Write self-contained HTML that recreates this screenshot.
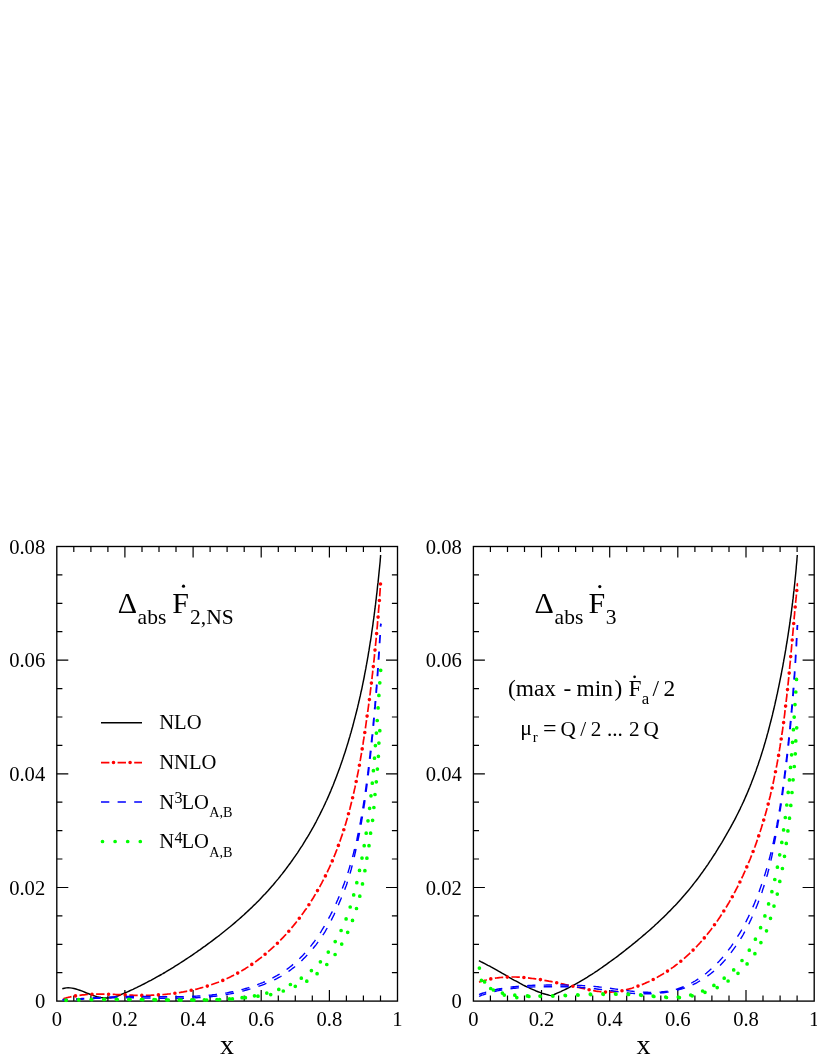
<!DOCTYPE html>
<html><head><meta charset="utf-8"><title>chart</title>
<style>html,body{margin:0;padding:0;background:#fff;}body{width:817px;height:1058px;overflow:hidden;}svg{display:block;font-family:"Liberation Serif",serif;will-change:transform;}</style></head><body>
<svg width="817" height="1058" viewBox="0 0 817 1058">
<rect width="817" height="1058" fill="#fff"/>
<defs><clipPath id="cl"><rect x="56.8" y="546.5" width="340.7" height="456.1"/></clipPath><clipPath id="cr"><rect x="473.4" y="546.5" width="340.8" height="456.1"/></clipPath></defs>
<g stroke="#000" stroke-width="1.35" fill="none" stroke-linecap="butt">
<rect x="56.8" y="546.5" width="340.7" height="454.6"/>
<path d="M73.8 1001.1v-5.6M73.8 546.5v5.6M90.9 1001.1v-5.6M90.9 546.5v5.6M107.9 1001.1v-5.6M107.9 546.5v5.6M124.9 1001.1v-11.0M124.9 546.5v11.0M142.0 1001.1v-5.6M142.0 546.5v5.6M159.0 1001.1v-5.6M159.0 546.5v5.6M176.0 1001.1v-5.6M176.0 546.5v5.6M193.1 1001.1v-11.0M193.1 546.5v11.0M210.1 1001.1v-5.6M210.1 546.5v5.6M227.1 1001.1v-5.6M227.1 546.5v5.6M244.2 1001.1v-5.6M244.2 546.5v5.6M261.2 1001.1v-11.0M261.2 546.5v11.0M278.3 1001.1v-5.6M278.3 546.5v5.6M295.3 1001.1v-5.6M295.3 546.5v5.6M312.3 1001.1v-5.6M312.3 546.5v5.6M329.4 1001.1v-11.0M329.4 546.5v11.0M346.4 1001.1v-5.6M346.4 546.5v5.6M363.4 1001.1v-5.6M363.4 546.5v5.6M380.5 1001.1v-5.6M380.5 546.5v5.6M56.8 972.7h5.6M397.5 972.7h-5.6M56.8 944.3h5.6M397.5 944.3h-5.6M56.8 915.9h5.6M397.5 915.9h-5.6M56.8 887.5h11.5M397.5 887.5h-11.5M56.8 859.0h5.6M397.5 859.0h-5.6M56.8 830.6h5.6M397.5 830.6h-5.6M56.8 802.2h5.6M397.5 802.2h-5.6M56.8 773.8h11.5M397.5 773.8h-11.5M56.8 745.4h5.6M397.5 745.4h-5.6M56.8 717.0h5.6M397.5 717.0h-5.6M56.8 688.6h5.6M397.5 688.6h-5.6M56.8 660.1h11.5M397.5 660.1h-11.5M56.8 631.7h5.6M397.5 631.7h-5.6M56.8 603.3h5.6M397.5 603.3h-5.6M56.8 574.9h5.6M397.5 574.9h-5.6" stroke-width="1.2"/>
</g>
<g stroke="#000" stroke-width="1.35" fill="none" stroke-linecap="butt">
<rect x="473.4" y="546.5" width="340.8" height="454.6"/>
<path d="M490.4 1001.1v-5.6M490.4 546.5v5.6M507.5 1001.1v-5.6M507.5 546.5v5.6M524.5 1001.1v-5.6M524.5 546.5v5.6M541.5 1001.1v-11.0M541.5 546.5v11.0M558.6 1001.1v-5.6M558.6 546.5v5.6M575.6 1001.1v-5.6M575.6 546.5v5.6M592.7 1001.1v-5.6M592.7 546.5v5.6M609.7 1001.1v-11.0M609.7 546.5v11.0M626.7 1001.1v-5.6M626.7 546.5v5.6M643.8 1001.1v-5.6M643.8 546.5v5.6M660.8 1001.1v-5.6M660.8 546.5v5.6M677.8 1001.1v-11.0M677.8 546.5v11.0M694.9 1001.1v-5.6M694.9 546.5v5.6M711.9 1001.1v-5.6M711.9 546.5v5.6M729.0 1001.1v-5.6M729.0 546.5v5.6M746.0 1001.1v-11.0M746.0 546.5v11.0M763.0 1001.1v-5.6M763.0 546.5v5.6M780.1 1001.1v-5.6M780.1 546.5v5.6M797.1 1001.1v-5.6M797.1 546.5v5.6M473.4 972.7h5.6M814.1 972.7h-5.6M473.4 944.3h5.6M814.1 944.3h-5.6M473.4 915.9h5.6M814.1 915.9h-5.6M473.4 887.5h11.5M814.1 887.5h-11.5M473.4 859.0h5.6M814.1 859.0h-5.6M473.4 830.6h5.6M814.1 830.6h-5.6M473.4 802.2h5.6M814.1 802.2h-5.6M473.4 773.8h11.5M814.1 773.8h-11.5M473.4 745.4h5.6M814.1 745.4h-5.6M473.4 717.0h5.6M814.1 717.0h-5.6M473.4 688.6h5.6M814.1 688.6h-5.6M473.4 660.1h11.5M814.1 660.1h-11.5M473.4 631.7h5.6M814.1 631.7h-5.6M473.4 603.3h5.6M814.1 603.3h-5.6M473.4 574.9h5.6M814.1 574.9h-5.6" stroke-width="1.2"/>
</g>
<g fill="none" clip-path="url(#cl)">
<path d="M62.3 988.8L64.3 988.2L66.2 987.9L68.2 987.8L70.1 987.9L72.1 988.1L74.0 988.5L75.9 989.0L77.8 989.6L79.7 990.2L81.6 990.9L83.5 991.7L85.4 992.5L87.4 993.3L89.3 994.0L91.2 994.8L93.2 995.5L95.1 996.1L97.1 996.7L99.1 997.1L101.0 997.5L103.0 997.8L104.9 998.0L106.9 998.0L108.8 997.9L110.7 997.7L112.6 997.3L114.5 996.9L116.4 996.3L118.3 995.7L120.1 995.0L122.0 994.2L123.8 993.4L125.6 992.6L127.5 991.8L129.3 991.0L131.1 990.1L133.0 989.3L134.8 988.4L136.6 987.6L138.4 986.7L140.2 985.8L142.0 984.9L143.8 984.0L145.5 983.1L147.3 982.2L149.1 981.2L150.9 980.3L152.6 979.4L154.4 978.4L156.1 977.4L157.9 976.4L159.6 975.5L161.4 974.5L163.1 973.5L164.9 972.5L166.6 971.4L168.3 970.4L170.0 969.4L171.7 968.3L173.4 967.3L175.1 966.2L176.8 965.2L178.5 964.1L180.2 963.0L181.9 961.9L183.6 960.8L185.3 959.7L186.9 958.6L188.6 957.5L190.3 956.4L191.9 955.3L193.6 954.1L195.2 953.0L196.9 951.9L198.5 950.7L200.2 949.6L201.8 948.4L203.4 947.2L205.1 946.1L206.7 944.9L208.3 943.7L209.9 942.5L211.5 941.3L213.1 940.1L214.7 938.9L216.3 937.7L217.9 936.5L219.5 935.3L221.1 934.0L222.6 932.8L224.2 931.5L225.7 930.3L227.3 929.0L228.8 927.8L230.4 926.5L231.9 925.2L233.5 923.9L235.0 922.6L236.5 921.3L238.0 920.0L239.5 918.7L241.0 917.4L242.5 916.0L244.0 914.7L245.4 913.4L246.9 912.0L248.4 910.6L249.8 909.3L251.3 907.9L252.7 906.5L254.1 905.1L255.6 903.7L257.0 902.3L258.4 900.9L259.8 899.5L261.2 898.0L262.5 896.6L263.9 895.1L265.3 893.7L266.6 892.2L268.0 890.7L269.3 889.2L270.6 887.7L271.9 886.2L273.3 884.7L274.5 883.2L275.8 881.6L277.1 880.1L278.4 878.6L279.7 877.0L280.9 875.4L282.2 873.9L283.4 872.3L284.6 870.7L285.8 869.1L287.0 867.5L288.2 865.9L289.4 864.3L290.6 862.7L291.8 861.0L292.9 859.4L294.1 857.7L295.2 856.1L296.4 854.4L297.5 852.8L298.6 851.1L299.7 849.4L300.8 847.7L301.9 846.1L303.0 844.4L304.0 842.7L305.1 840.9L306.1 839.2L307.2 837.5L308.2 835.8L309.2 834.1L310.2 832.3L311.2 830.6L312.2 828.8L313.2 827.1L314.2 825.3L315.1 823.6L316.1 821.8L317.0 820.0L317.9 818.2L318.8 816.5L319.8 814.7L320.6 812.9L321.5 811.1L322.4 809.3L323.3 807.5L324.1 805.7L325.0 803.9L325.8 802.0L326.7 800.2L327.5 798.4L328.3 796.6L329.1 794.7L329.9 792.9L330.7 791.1L331.4 789.2L332.2 787.4L333.0 785.5L333.7 783.7L334.4 781.8L335.2 779.9L335.9 778.1L336.6 776.2L337.3 774.3L338.0 772.5L338.7 770.6L339.4 768.7L340.1 766.8L340.7 764.9L341.4 763.1L342.0 761.2L342.7 759.3L343.3 757.4L343.9 755.5L344.6 753.6L345.2 751.7L345.8 749.8L346.4 747.9L347.0 745.9L347.6 744.0L348.2 742.1L348.7 740.2L349.3 738.3L349.9 736.4L350.4 734.4L351.0 732.5L351.5 730.6L352.0 728.7L352.6 726.7L353.1 724.8L353.6 722.9L354.1 720.9L354.6 719.0L355.1 717.1L355.6 715.1L356.1 713.2L356.6 711.2L357.1 709.3L357.6 707.4L358.0 705.4L358.5 703.5L358.9 701.5L359.4 699.6L359.8 697.6L360.3 695.7L360.7 693.7L361.1 691.7L361.6 689.8L362.0 687.8L362.4 685.9L362.8 683.9L363.2 681.9L363.6 680.0L364.0 678.0L364.4 676.0L364.7 674.1L365.1 672.1L365.5 670.1L365.9 668.2L366.2 666.2L366.6 664.2L366.9 662.3L367.3 660.3L367.6 658.3L368.0 656.3L368.3 654.4L368.6 652.4L369.0 650.4L369.3 648.4L369.6 646.4L369.9 644.5L370.2 642.5L370.6 640.5L370.9 638.5L371.2 636.5L371.5 634.5L371.7 632.6L372.0 630.6L372.3 628.6L372.6 626.6L372.9 624.6L373.1 622.6L373.4 620.6L373.7 618.7L374.0 616.7L374.2 614.7L374.5 612.7L374.7 610.7L375.0 608.7L375.2 606.7L375.5 604.7L375.7 602.8L375.9 600.8L376.2 598.8L376.4 596.8L376.6 594.8L376.9 592.8L377.1 590.8L377.3 588.8L377.5 586.8L377.7 584.9L378.0 582.9L378.2 580.9L378.4 578.9L378.6 576.9L378.8 574.9L379.0 572.9L379.2 570.9L379.4 569.0L379.6 567.0L379.8 565.0L380.0 563.0L380.2 561.0L380.3 559.0L380.5 557.1L380.6 555.0" stroke="#000" stroke-width="1.45" stroke-linejoin="round"/>
<path d="M63.3 998.7L64.7 998.2L66.2 997.9L67.7 997.5L69.1 997.2L70.6 996.8L71.5 996.6M79.5 995.3L81.0 995.1L82.5 994.9L84.0 994.8L85.5 994.7L87.0 994.5L87.9 994.5M96.1 994.1L97.6 994.1L99.1 994.1L100.6 994.1L102.1 994.1L103.6 994.1L104.5 994.1M112.7 994.4L114.2 994.4L115.7 994.5L117.2 994.6L118.7 994.6L120.2 994.7L121.1 994.7M129.3 995.1L130.8 995.2L132.3 995.2L133.8 995.3L135.3 995.3L136.8 995.3L137.7 995.3M145.9 995.4L147.4 995.3L148.9 995.3L150.4 995.3L151.9 995.2L153.4 995.2L154.3 995.1M162.4 994.6L163.9 994.5L165.4 994.3L166.9 994.2L168.4 994.0L169.9 993.9L170.8 993.7M178.9 992.6L180.4 992.4L181.9 992.1L183.4 991.9L184.8 991.6L186.3 991.3L187.2 991.2M195.2 989.4L196.7 989.1L198.1 988.7L199.6 988.3L201.0 987.9L202.5 987.5L203.3 987.3M211.2 984.8L212.6 984.3L214.0 983.8L215.4 983.3L216.8 982.8L218.2 982.3L219.0 981.9M226.6 978.7L227.9 978.1L229.3 977.4L230.7 976.8L232.0 976.1L233.3 975.4L234.1 975.0M241.3 971.1L242.6 970.3L243.9 969.5L245.2 968.7L246.4 967.9L247.7 967.1L248.4 966.6M255.2 962.0L256.4 961.1L257.6 960.2L258.8 959.3L260.0 958.4L261.2 957.5L261.9 956.9M268.2 951.7L269.3 950.7L270.5 949.7L271.6 948.7L272.7 947.7L273.8 946.7L274.4 946.1M280.3 940.3L281.4 939.2L282.4 938.2L283.4 937.1L284.4 936.0L285.5 934.9L286.1 934.2M291.5 928.0L292.4 926.9L293.4 925.7L294.3 924.6L295.3 923.4L296.2 922.2L296.8 921.5M301.7 915.0L302.6 913.8L303.5 912.6L304.4 911.3L305.2 910.1L306.1 908.9L306.6 908.1M311.1 901.3L311.9 900.0L312.7 898.7L313.5 897.5L314.2 896.2L315.0 894.9L315.5 894.1M319.6 887.0L320.3 885.7L321.0 884.4L321.7 883.1L322.4 881.7L323.1 880.4L323.5 879.6M327.2 872.3L327.8 870.9L328.4 869.5L329.1 868.2L329.7 866.8L330.3 865.5L330.7 864.6M333.9 857.1L334.5 855.7L335.0 854.3L335.6 852.9L336.1 851.5L336.7 850.1L337.0 849.3M339.8 841.6L340.3 840.2L340.8 838.8L341.3 837.3L341.8 835.9L342.3 834.5L342.6 833.6M345.0 825.8L345.5 824.4L345.9 823.0L346.3 821.5L346.8 820.1L347.2 818.6L347.4 817.8M349.6 809.9L350.0 808.4L350.3 807.0L350.7 805.5L351.1 804.1L351.4 802.6L351.7 801.7M353.5 793.7L353.9 792.3L354.2 790.8L354.5 789.4L354.9 787.9L355.2 786.4L355.4 785.5M357.0 777.5L357.3 776.0L357.6 774.6L357.9 773.1L358.2 771.6L358.5 770.2L358.6 769.3M360.1 761.2L360.4 759.7L360.6 758.2L360.9 756.8L361.1 755.3L361.4 753.8L361.5 752.9M362.8 744.8L363.1 743.4L363.3 741.9L363.5 740.4L363.8 738.9L364.0 737.4L364.1 736.5M365.4 728.4L365.6 726.9L365.8 725.5L366.0 724.0L366.2 722.5L366.4 721.0L366.6 720.1M367.7 712.0L367.9 710.5L368.1 709.0L368.3 707.5L368.5 706.0L368.7 704.6L368.8 703.7M369.9 695.5L370.1 694.0L370.3 692.6L370.4 691.1L370.6 689.6L370.8 688.1L370.9 687.2M371.9 679.1L372.1 677.6L372.2 676.1L372.4 674.6L372.6 673.1L372.7 671.6L372.8 670.7M373.7 662.6L373.9 661.1L374.1 659.6L374.2 658.1L374.4 656.6L374.5 655.1L374.6 654.2M375.4 646.0L375.6 644.6L375.7 643.1L375.9 641.6L376.0 640.1L376.2 638.6L376.2 637.7M377.0 629.5L377.1 628.0L377.3 626.5L377.4 625.0L377.5 623.5L377.6 622.0L377.7 621.2M378.4 613.0L378.5 611.5L378.6 610.0L378.7 608.5L378.9 607.0L379.0 605.5L379.0 604.6M379.7 596.4L379.8 594.9L379.9 593.4L380.0 591.9L380.1 590.4L380.2 588.9L380.2 588.0" stroke="#f00" stroke-width="1.70"/>
<path d="M75.5 995.9h0M92.0 994.2h0M108.6 994.2h0M125.2 994.9h0M141.8 995.4h0M158.4 994.9h0M174.9 993.2h0M191.2 990.3h0M207.3 986.1h0M222.8 980.4h0M237.7 973.1h0M251.8 964.4h0M265.1 954.3h0M277.4 943.2h0M288.8 931.2h0M299.3 918.3h0M308.9 904.7h0M317.5 890.6h0M325.4 875.9h0M332.3 860.9h0M338.4 845.4h0M343.8 829.7h0M348.5 813.8h0M352.6 797.7h0M356.2 781.5h0M359.4 765.2h0M362.2 748.9h0M364.8 732.5h0M367.1 716.1h0M369.4 699.6h0M371.4 683.1h0M373.3 666.6h0M375.0 650.1h0M376.6 633.6h0M378.1 617.1h0M379.4 600.5h0M380.5 584.0h0" stroke="#f00" stroke-width="3.60" stroke-linecap="round"/>
<path d="M62.3 999.5L63.8 999.6L65.3 999.5L66.8 999.4L67.7 999.4M76.0 998.9L77.5 998.8L79.0 998.7L80.5 998.6L82.0 998.5L83.5 998.4L84.3 998.4M92.5 997.9L94.0 997.8L95.5 997.7L97.0 997.6L98.5 997.6L100.0 997.5L100.8 997.4M109.1 997.0L110.6 997.0L112.1 996.9L113.6 996.9L115.1 996.8L116.6 996.8L117.4 996.7M125.7 996.5L127.2 996.5L128.7 996.5L130.2 996.4L131.7 996.4L133.2 996.4L134.0 996.4M142.3 996.4L143.8 996.4L145.3 996.4L146.8 996.4L148.3 996.5L149.8 996.5L150.6 996.5M158.9 996.6L160.4 996.6L161.9 996.6L163.4 996.6L164.9 996.6L166.4 996.6L167.2 996.6M175.5 996.7L177.0 996.6L178.5 996.6L180.0 996.6L181.5 996.6L183.0 996.6L183.8 996.6M192.1 996.3L193.6 996.3L195.1 996.2L196.6 996.1L198.1 996.0L199.6 996.0L200.4 995.9M208.7 995.3L210.2 995.1L211.7 995.0L213.1 994.8L214.6 994.6L216.1 994.4L216.9 994.3M225.1 993.1L226.6 992.9L228.1 992.6L229.6 992.3L231.0 992.0L232.5 991.7L233.3 991.6M241.4 989.7L242.8 989.3L244.3 988.9L245.7 988.5L247.1 988.1L248.6 987.7L249.3 987.4M257.2 984.8L258.6 984.2L260.0 983.7L261.4 983.1L262.8 982.6L264.2 982.0L264.9 981.6M272.4 978.1L273.7 977.4L275.0 976.7L276.4 976.0L277.7 975.2L279.0 974.4L279.6 974.0M286.6 969.5L287.8 968.6L289.0 967.7L290.2 966.8L291.4 965.9L292.5 964.9L293.1 964.4M299.3 958.8L300.4 957.8L301.4 956.7L302.5 955.7L303.5 954.6L304.5 953.5L305.1 952.9M310.4 946.5L311.4 945.4L312.3 944.2L313.2 943.0L314.1 941.8L315.0 940.6L315.4 939.9M320.1 933.0L320.9 931.8L321.7 930.5L322.5 929.2L323.3 928.0L324.0 926.7L324.4 926.0M328.5 918.7L329.2 917.4L329.9 916.1L330.6 914.8L331.3 913.4L332.0 912.1L332.3 911.4M335.9 903.9L336.5 902.5L337.1 901.1L337.7 899.8L338.3 898.4L338.9 897.0L339.2 896.3M342.3 888.6L342.8 887.2L343.3 885.8L343.9 884.4L344.4 882.9L344.9 881.5L345.2 880.8M347.8 872.9L348.3 871.5L348.7 870.1L349.2 868.6L349.6 867.2L350.0 865.8L350.3 865.0M352.5 857.0L352.9 855.6L353.3 854.1L353.7 852.6L354.0 851.2L354.4 849.7L354.6 849.0M356.5 840.9L356.9 839.4L357.2 838.0L357.5 836.5L357.8 835.0L358.1 833.6L358.3 832.8M359.9 824.6L360.2 823.2L360.5 821.7L360.7 820.2L361.0 818.7L361.3 817.3L361.4 816.5M362.8 808.3L363.0 806.8L363.3 805.3L363.5 803.8L363.7 802.4L364.0 800.9L364.1 800.1M365.3 791.9L365.5 790.4L365.7 788.9L365.9 787.4L366.1 785.9L366.3 784.4L366.4 783.7M367.5 775.4L367.7 773.9L367.8 772.4L368.0 771.0L368.2 769.5L368.4 768.0L368.5 767.2M369.5 758.9L369.6 757.5L369.8 756.0L370.0 754.5L370.1 753.0L370.3 751.5L370.4 750.7M371.3 742.4L371.4 741.0L371.6 739.5L371.7 738.0L371.9 736.5L372.1 735.0L372.1 734.2M373.0 725.9L373.1 724.4L373.2 722.9L373.4 721.5L373.5 720.0L373.7 718.5L373.7 717.7M374.5 709.4L374.6 707.9L374.8 706.4L374.9 704.9L375.0 703.4L375.1 701.9L375.2 701.1M375.9 692.9L376.0 691.4L376.1 689.9L376.2 688.4L376.4 686.9L376.5 685.4L376.5 684.6M377.2 676.3L377.3 674.8L377.4 673.3L377.5 671.8L377.6 670.3L377.7 668.8L377.8 668.0M378.3 659.8L378.4 658.3L378.5 656.8L378.6 655.3L378.7 653.8L378.8 652.3L378.9 651.5M379.4 643.2L379.5 641.7L379.6 640.2L379.7 638.7L379.8 637.2L379.9 635.7L379.9 634.9M380.4 626.6L380.5 625.1L380.9 623.7L380.9 623.7M62.3 999.8L63.8 1000.0L65.3 1000.1L66.8 1000.1L67.7 1000.2M76.0 999.7L77.5 999.6L79.0 999.5L80.5 999.3L82.0 999.2L83.5 999.1L84.3 999.1M92.5 998.6L94.0 998.5L95.5 998.4L97.0 998.3L98.5 998.3L100.0 998.2L100.8 998.2M109.1 997.9L110.6 997.8L112.1 997.8L113.6 997.8L115.1 997.7L116.6 997.7L117.4 997.7M125.7 997.7L127.2 997.7L128.7 997.7L130.2 997.8L131.7 997.8L133.2 997.8L134.0 997.8M142.3 998.0L143.8 998.0L145.3 998.0L146.8 998.0L148.3 998.1L149.8 998.1L150.6 998.1M159.0 998.2L160.5 998.2L162.0 998.2L163.5 998.2L165.0 998.2L166.5 998.2L167.3 998.2M175.6 998.3L177.1 998.2L178.6 998.2L180.1 998.2L181.6 998.2L183.2 998.2L184.0 998.2M192.3 997.9L193.8 997.9L195.3 997.8L196.8 997.7L198.3 997.6L199.8 997.6L200.6 997.5M209.0 996.8L210.5 996.7L212.0 996.5L213.6 996.4L215.1 996.2L216.6 996.0L217.4 995.9M225.7 994.7L227.2 994.4L228.7 994.1L230.2 993.9L231.7 993.6L233.2 993.3L234.0 993.1M242.3 991.2L243.7 990.8L245.2 990.4L246.7 990.0L248.1 989.6L249.6 989.2L250.4 988.9M258.4 986.4L259.9 985.9L261.3 985.4L262.8 984.8L264.2 984.3L265.6 983.7L266.4 983.4M274.1 980.0L275.4 979.3L276.8 978.6L278.1 977.9L279.5 977.2L280.8 976.5L281.5 976.0M288.5 971.5L289.7 970.6L290.9 969.7L292.1 968.8L293.3 967.9L294.5 967.0L295.1 966.5M301.4 960.9L302.4 959.9L303.5 958.8L304.6 957.7L305.6 956.7L306.7 955.6L307.3 955.0M312.9 948.6L313.8 947.5L314.8 946.3L315.8 945.1L316.7 943.9L317.6 942.7L318.1 942.0M322.8 935.1L323.7 933.9L324.5 932.6L325.3 931.3L326.0 930.0L326.8 928.7L327.2 928.0M331.2 920.5L331.8 919.1L332.5 917.7L333.2 916.4L333.9 915.0L334.5 913.6L334.8 912.9M338.3 905.3L338.8 903.9L339.4 902.5L340.0 901.1L340.6 899.7L341.2 898.3L341.5 897.5M344.7 889.7L345.2 888.3L345.7 886.9L346.3 885.4L346.8 884.0L347.2 882.5L347.5 881.8M350.0 873.6L350.4 872.2L350.8 870.7L351.3 869.2L351.6 867.7L352.0 866.2L352.2 865.4M354.2 857.1L354.6 855.6L354.9 854.1L355.3 852.6L355.6 851.2L355.9 849.7L356.1 849.0M357.9 840.9L358.2 839.4L358.5 838.0L358.8 836.5L359.1 835.0L359.4 833.6L359.5 832.8M361.1 824.6L361.3 823.2L361.6 821.7L361.8 820.2L362.1 818.7L362.3 817.3L362.5 816.5M363.8 808.3L364.0 806.8L364.2 805.3L364.5 803.8L364.7 802.4L364.9 800.9L365.0 800.1M366.1 791.9L366.3 790.4L366.5 788.9L366.7 787.4L366.9 785.9L367.1 784.4L367.2 783.7M368.2 775.4L368.4 773.9L368.6 772.4L368.8 771.0L368.9 769.5L369.1 768.0L369.2 767.2M370.1 758.9L370.3 757.5L370.5 756.0L370.6 754.5L370.8 753.0L371.0 751.5L371.0 750.7M371.9 742.4L372.1 741.0L372.2 739.5L372.3 738.0L372.5 736.5L372.7 735.0L372.7 734.2M373.5 725.9L373.7 724.4L373.8 722.9L374.0 721.5L374.1 720.0L374.2 718.5L374.3 717.7M375.0 709.4L375.2 707.9L375.3 706.4L375.4 704.9L375.5 703.4L375.7 701.9L375.7 701.1M376.4 692.9L376.5 691.4L376.6 689.9L376.8 688.4L376.9 686.9L377.0 685.4L377.1 684.6M377.7 676.3L377.8 674.8L377.9 673.3L378.0 671.8L378.1 670.3L378.2 668.8L378.2 668.0M378.8 659.8L378.9 658.3L379.0 656.8L379.1 655.3L379.2 653.8L379.3 652.3L379.3 651.5M379.8 643.2L379.9 641.7L380.0 640.2L380.1 638.7L380.2 637.2L380.3 635.7L380.3 634.9M380.8 626.6L380.9 625.1L381.3 623.7L381.3 623.7" stroke="#00f" stroke-width="1.40"/>
<path d="M65.9 1000.1h0M78.5 999.7h0M91.1 999.5h0M103.7 999.3h0M116.3 999.3h0M128.8 999.4h0M141.4 999.5h0M154.0 999.7h0M166.6 999.8h0M179.2 999.9h0M191.8 999.9h0M204.4 999.8h0M217.0 999.5h0M229.5 998.9h0M242.1 997.7h0M254.5 995.8h0M266.8 993.1h0M278.8 989.4h0M290.4 984.5h0M301.3 978.2h0M311.4 970.6h0M320.4 961.8h0M328.3 952.1h0M335.2 941.6h0M341.1 930.5h0M346.1 918.9h0M350.2 907.0h0M353.7 894.9h0M356.8 882.7h0M359.5 870.4h0M362.0 858.1h0M364.2 845.7h0M366.2 833.2h0M368.0 820.8h0M369.6 808.3h0M371.0 795.8h0M372.3 783.2h0M373.4 770.7h0M374.5 758.2h0M375.4 745.6h0M376.4 733.1h0M377.2 720.5h0M378.1 707.9h0M378.9 695.4h0M379.8 682.8h0M380.7 670.3h0M66.2 1000.3h0M79.0 999.9h0M91.7 999.7h0M104.5 999.5h0M117.3 999.5h0M130.0 999.6h0M142.8 999.7h0M155.6 999.9h0M168.3 1000.0h0M181.1 1000.1h0M193.9 1000.1h0M206.7 1000.0h0M219.6 999.6h0M232.4 998.9h0M245.4 997.7h0M258.0 996.2h0M270.7 994.6h0M283.3 991.0h0M295.3 986.3h0M306.8 981.2h0M317.1 973.7h0M326.8 964.5h0M335.1 954.5h0M341.7 944.1h0M347.7 932.3h0M352.5 920.4h0M356.5 908.5h0M359.8 896.2h0M362.5 883.9h0M364.9 870.7h0M366.9 858.2h0M369.0 845.7h0M370.6 833.2h0M372.6 820.3h0M373.9 807.5h0M375.0 794.5h0M376.3 781.8h0M377.4 769.1h0M378.4 756.3h0M378.9 743.1h0M379.8 730.7h0" stroke="#0f0" stroke-width="3.70" stroke-linecap="round"/>
</g>
<g fill="none" clip-path="url(#cr)">
<path d="M478.9 960.7L480.7 961.7L482.5 962.5L484.3 963.4L486.1 964.3L487.9 965.3L489.7 966.2L491.4 967.2L493.2 968.2L495.0 969.2L496.8 970.2L498.5 971.2L500.3 972.2L502.0 973.2L503.8 974.2L505.6 975.2L507.3 976.2L509.1 977.3L510.9 978.3L512.6 979.3L514.4 980.3L516.2 981.2L518.0 982.2L519.7 983.2L521.5 984.1L523.3 985.1L525.1 986.0L526.9 986.9L528.8 987.7L530.6 988.6L532.4 989.4L534.3 990.2L536.2 991.0L538.0 991.7L539.9 992.4L541.8 993.1L543.7 993.7L545.7 994.3L547.6 994.8L549.6 995.4L551.6 995.6L551.6 995.6L553.4 994.8L555.3 994.0L557.1 993.2L559.0 992.4L560.8 991.6L562.6 990.7L564.4 989.9L566.2 989.0L568.0 988.1L569.8 987.2L571.6 986.2L573.3 985.3L575.1 984.3L576.8 983.4L578.6 982.4L580.3 981.4L582.0 980.4L583.7 979.4L585.4 978.3L587.1 977.3L588.8 976.2L590.5 975.1L592.2 974.1L593.9 973.0L595.5 971.9L597.2 970.8L598.9 969.6L600.5 968.5L602.2 967.4L603.8 966.2L605.4 965.1L607.1 963.9L608.7 962.7L610.3 961.5L611.9 960.4L613.6 959.2L615.2 958.0L616.8 956.8L618.4 955.6L620.0 954.3L621.6 953.1L623.2 951.9L624.7 950.7L626.3 949.4L627.9 948.2L629.5 946.9L631.0 945.7L632.6 944.4L634.2 943.2L635.7 941.9L637.3 940.6L638.8 939.3L640.4 938.0L641.9 936.7L643.4 935.4L645.0 934.1L646.5 932.8L648.0 931.5L649.5 930.2L651.0 928.9L652.5 927.5L654.0 926.2L655.4 924.8L656.9 923.5L658.4 922.1L659.8 920.7L661.3 919.3L662.7 918.0L664.2 916.6L665.6 915.2L667.0 913.8L668.4 912.3L669.9 910.9L671.2 909.5L672.6 908.1L674.0 906.6L675.4 905.2L676.8 903.7L678.1 902.2L679.5 900.7L680.8 899.3L682.1 897.8L683.4 896.3L684.7 894.8L686.0 893.2L687.3 891.7L688.6 890.2L689.9 888.6L691.1 887.1L692.4 885.5L693.6 883.9L694.8 882.4L696.1 880.8L697.3 879.2L698.5 877.6L699.7 876.0L700.8 874.4L702.0 872.8L703.2 871.1L704.3 869.5L705.5 867.9L706.6 866.2L707.8 864.6L708.9 862.9L710.0 861.2L711.1 859.6L712.2 857.9L713.3 856.2L714.4 854.5L715.5 852.8L716.5 851.1L717.6 849.4L718.6 847.7L719.7 846.0L720.7 844.3L721.8 842.6L722.8 840.9L723.8 839.1L724.8 837.4L725.8 835.7L726.8 833.9L727.8 832.2L728.8 830.4L729.8 828.7L730.8 826.9L731.7 825.2L732.7 823.4L733.6 821.6L734.6 819.9L735.5 818.1L736.4 816.3L737.3 814.5L738.2 812.7L739.1 810.9L740.0 809.1L740.8 807.3L741.7 805.5L742.5 803.7L743.4 801.9L744.2 800.1L745.0 798.3L745.8 796.4L746.6 794.6L747.4 792.8L748.2 790.9L748.9 789.1L749.7 787.2L750.4 785.4L751.2 783.5L751.9 781.6L752.6 779.8L753.3 777.9L754.0 776.0L754.7 774.2L755.4 772.3L756.1 770.4L756.7 768.5L757.4 766.6L758.1 764.7L758.7 762.8L759.3 760.9L760.0 759.0L760.6 757.1L761.2 755.2L761.8 753.3L762.4 751.4L763.0 749.5L763.6 747.6L764.1 745.7L764.7 743.7L765.3 741.8L765.8 739.9L766.4 738.0L766.9 736.0L767.4 734.1L768.0 732.2L768.5 730.2L769.0 728.3L769.5 726.4L770.0 724.4L770.5 722.5L771.0 720.5L771.5 718.6L772.0 716.6L772.5 714.7L772.9 712.7L773.4 710.8L773.9 708.8L774.3 706.9L774.8 704.9L775.2 703.0L775.6 701.0L776.1 699.0L776.5 697.1L776.9 695.1L777.4 693.2L777.8 691.2L778.2 689.2L778.6 687.3L779.0 685.3L779.4 683.3L779.8 681.4L780.2 679.4L780.6 677.4L781.0 675.5L781.4 673.5L781.7 671.6L782.1 669.6L782.5 667.6L782.9 665.6L783.2 663.7L783.6 661.7L783.9 659.7L784.3 657.8L784.6 655.8L785.0 653.8L785.3 651.9L785.7 649.9L786.0 647.9L786.3 645.9L786.6 644.0L787.0 642.0L787.3 640.0L787.6 638.0L787.9 636.1L788.2 634.1L788.5 632.1L788.8 630.1L789.1 628.1L789.4 626.2L789.7 624.2L790.0 622.2L790.2 620.2L790.5 618.2L790.8 616.3L791.1 614.3L791.3 612.3L791.6 610.3L791.8 608.3L792.1 606.3L792.3 604.4L792.6 602.4L792.8 600.4L793.1 598.4L793.3 596.4L793.5 594.4L793.7 592.4L794.0 590.4L794.2 588.4L794.4 586.4L794.6 584.5L794.8 582.5L795.0 580.5L795.2 578.5L795.4 576.5L795.6 574.5L795.8 572.5L796.0 570.5L796.2 568.5L796.3 566.5L796.5 564.5L796.7 562.5L796.9 560.5L797.0 558.5L797.2 556.5L797.3 555.0" stroke="#000" stroke-width="1.45" stroke-linejoin="round"/>
<path d="M479.1 982.3L480.4 981.6L481.8 981.2L483.3 980.7L484.7 980.3L486.2 980.0L486.8 979.8M494.9 978.2L496.4 978.0L497.8 977.8L499.3 977.6L500.8 977.5L502.3 977.3L503.2 977.3M511.4 977.0L512.9 977.0L514.4 977.0L515.9 977.0L517.4 977.1L518.9 977.2L519.8 977.2M528.0 977.9L529.5 978.1L531.0 978.3L532.4 978.5L533.9 978.7L535.4 978.9L536.3 979.0M544.4 980.3L545.9 980.6L547.3 980.9L548.8 981.2L550.3 981.4L551.8 981.7L552.6 981.9M560.7 983.6L562.1 983.9L563.6 984.2L565.1 984.5L566.5 984.8L568.0 985.2L568.9 985.3M576.9 987.1L578.4 987.4L579.8 987.7L581.3 988.1L582.8 988.4L584.2 988.7L585.1 988.9M593.1 990.5L594.6 990.8L596.1 991.1L597.6 991.3L599.1 991.5L600.5 991.7L601.4 991.8M609.6 992.1L611.1 992.1L612.6 992.0L614.1 991.9L615.6 991.7L617.1 991.5L618.0 991.4M626.0 989.8L627.5 989.4L628.9 989.0L630.4 988.6L631.8 988.2L633.2 987.7L634.1 987.4M641.8 984.6L643.2 984.1L644.6 983.5L645.9 982.9L647.3 982.3L648.7 981.7L649.5 981.3M656.8 977.6L658.1 976.8L659.4 976.1L660.7 975.3L662.0 974.6L663.3 973.8L664.0 973.3M670.9 968.8L672.1 967.9L673.3 967.1L674.5 966.2L675.7 965.3L676.9 964.4L677.6 963.8M684.0 958.6L685.1 957.6L686.2 956.6L687.3 955.6L688.4 954.6L689.5 953.6L690.2 952.9M696.0 947.1L697.0 946.1L698.0 945.0L699.1 943.9L700.1 942.8L701.1 941.6L701.7 941.0M706.9 934.7L707.9 933.5L708.8 932.4L709.7 931.2L710.7 930.0L711.6 928.8L712.1 928.1M716.9 921.4L717.8 920.2L718.6 919.0L719.5 917.7L720.3 916.5L721.1 915.2L721.6 914.5M726.0 907.5L726.8 906.2L727.5 905.0L728.3 903.7L729.1 902.4L729.8 901.1L730.3 900.3M734.2 893.1L734.9 891.8L735.6 890.5L736.3 889.1L737.0 887.8L737.7 886.5L738.1 885.7M741.7 878.3L742.3 876.9L743.0 875.6L743.6 874.2L744.2 872.8L744.8 871.5L745.2 870.7M748.4 863.1L749.0 861.7L749.6 860.4L750.2 859.0L750.7 857.6L751.3 856.2L751.6 855.4M754.5 847.7L755.1 846.3L755.6 844.9L756.1 843.5L756.6 842.1L757.1 840.6L757.4 839.8M760.0 832.0L760.5 830.6L760.9 829.2L761.4 827.7L761.8 826.3L762.3 824.9L762.5 824.0M764.9 816.1L765.3 814.7L765.7 813.3L766.1 811.8L766.5 810.4L766.9 808.9L767.1 808.1M769.2 800.1L769.5 798.7L769.9 797.2L770.3 795.7L770.6 794.3L770.9 792.8L771.2 792.0M773.0 784.0L773.3 782.5L773.6 781.0L773.9 779.6L774.2 778.1L774.5 776.6L774.7 775.7M776.3 767.7L776.6 766.2L776.9 764.7L777.1 763.3L777.4 761.8L777.7 760.3L777.8 759.4M779.2 751.4L779.5 749.9L779.7 748.4L780.0 746.9L780.2 745.4L780.4 744.0L780.6 743.1M781.8 735.0L782.0 733.5L782.3 732.0L782.5 730.5L782.7 729.0L782.9 727.5L783.0 726.6M784.1 718.5L784.3 717.0L784.5 715.5L784.7 714.1L784.8 712.6L785.0 711.1L785.1 710.2M786.1 702.0L786.3 700.5L786.4 699.1L786.6 697.6L786.8 696.1L786.9 694.6L787.0 693.7M787.9 685.5L788.1 684.0L788.2 682.6L788.4 681.1L788.5 679.6L788.7 678.1L788.8 677.2M789.6 669.0L789.7 667.5L789.8 666.0L790.0 664.5L790.1 663.0L790.3 661.6L790.4 660.7M791.1 652.5L791.2 651.0L791.4 649.5L791.5 648.0L791.6 646.5L791.8 645.0L791.9 644.1M792.6 636.0L792.7 634.5L792.9 633.0L793.0 631.5L793.1 630.0L793.3 628.5L793.3 627.6M794.1 619.4L794.2 617.9L794.3 616.4L794.5 614.9L794.6 613.4L794.7 612.0L794.8 611.1M795.6 602.9L795.7 601.4L795.9 599.9L796.0 598.4L796.2 596.9L796.3 595.4L796.4 594.5M797.2 586.4L797.3 584.9L797.2 583.4L797.1 583.3" stroke="#f00" stroke-width="1.70"/>
<path d="M490.8 978.9h0M507.3 977.1h0M523.9 977.5h0M540.4 979.6h0M556.7 982.7h0M572.9 986.2h0M589.1 989.7h0M605.5 992.1h0M622.0 990.7h0M638.0 986.1h0M653.2 979.5h0M667.5 971.1h0M680.8 961.2h0M693.1 950.1h0M704.3 937.9h0M714.5 924.8h0M723.8 911.0h0M732.3 896.7h0M739.9 882.0h0M746.8 866.9h0M753.1 851.5h0M758.7 835.9h0M763.7 820.1h0M768.2 804.1h0M772.1 788.0h0M775.5 771.7h0M778.6 755.4h0M781.2 739.0h0M783.6 722.6h0M785.6 706.1h0M787.5 689.6h0M789.2 673.1h0M790.7 656.6h0M792.2 640.0h0M793.7 623.5h0M795.2 607.0h0M796.8 590.5h0" stroke="#f00" stroke-width="3.60" stroke-linecap="round"/>
<path d="M479.1 994.7L480.4 994.0L481.8 993.5L483.2 993.0L484.6 992.6L486.1 992.1L486.2 992.1M494.2 990.0L495.7 989.6L497.1 989.3L498.6 989.0L500.1 988.7L501.6 988.5L502.3 988.3M510.5 987.1L512.0 986.9L513.5 986.7L515.0 986.6L516.5 986.4L518.0 986.3L518.8 986.2M527.1 985.6L528.6 985.5L530.1 985.5L531.6 985.4L533.1 985.3L534.6 985.3L535.4 985.3M543.7 985.1L545.2 985.1L546.7 985.0L548.2 985.0L549.7 985.0L551.2 985.0L552.0 985.0M560.3 985.0L561.8 985.0L563.3 985.0L564.8 985.0L566.3 985.1L567.8 985.1L568.6 985.1M576.9 985.3L578.4 985.4L579.9 985.5L581.4 985.5L582.9 985.6L584.4 985.7L585.2 985.7M593.4 986.4L594.9 986.5L596.4 986.6L597.9 986.8L599.4 987.0L600.9 987.1L601.7 987.2M609.9 988.3L611.4 988.5L612.9 988.7L614.4 988.9L615.9 989.1L617.3 989.3L618.1 989.4M626.4 990.5L627.9 990.7L629.3 990.9L630.8 991.1L632.3 991.2L633.8 991.4L634.6 991.5M642.9 992.1L644.4 992.2L645.9 992.3L647.4 992.3L648.9 992.4L650.4 992.4L651.2 992.4M659.5 992.1L661.0 992.0L662.5 991.8L664.0 991.7L665.4 991.5L666.9 991.3L667.7 991.1M675.8 989.4L677.3 989.0L678.7 988.5L680.1 988.0L681.5 987.5L682.9 987.0L683.7 986.7M691.2 983.2L692.5 982.5L693.8 981.7L695.1 981.0L696.4 980.2L697.6 979.4L698.3 978.9M705.1 974.1L706.3 973.2L707.4 972.2L708.6 971.3L709.7 970.3L710.8 969.3L711.4 968.8M717.4 963.0L718.4 962.0L719.5 960.9L720.5 959.7L721.5 958.6L722.5 957.5L723.0 956.9M728.2 950.4L729.1 949.2L730.0 948.0L730.9 946.8L731.7 945.6L732.6 944.3L733.0 943.7M737.5 936.7L738.3 935.4L739.1 934.2L739.9 932.9L740.6 931.6L741.4 930.3L741.8 929.6M745.7 922.3L746.4 920.9L747.0 919.6L747.7 918.2L748.4 916.9L749.0 915.5L749.4 914.8M752.8 907.3L753.4 905.9L754.0 904.5L754.6 903.1L755.1 901.7L755.7 900.4L756.0 899.6M759.0 891.9L759.5 890.5L760.0 889.1L760.5 887.6L761.0 886.2L761.5 884.8L761.8 884.1M764.4 876.2L764.8 874.7L765.3 873.3L765.7 871.9L766.1 870.4L766.6 869.0L766.8 868.2M769.0 860.2L769.4 858.8L769.8 857.3L770.1 855.9L770.5 854.4L770.9 853.0L771.0 852.2M772.9 844.1L773.3 842.6L773.6 841.2L773.9 839.7L774.2 838.2L774.5 836.8L774.7 836.0M776.3 827.8L776.6 826.4L776.9 824.9L777.1 823.4L777.4 821.9L777.7 820.5L777.8 819.7M779.2 811.5L779.5 810.0L779.7 808.5L779.9 807.1L780.2 805.6L780.4 804.1L780.5 803.3M781.7 795.1L782.0 793.6L782.2 792.1L782.4 790.6L782.6 789.2L782.8 787.7L782.9 786.9M784.0 778.6L784.2 777.2L784.4 775.7L784.6 774.2L784.8 772.7L784.9 771.2L785.0 770.4M786.0 762.2L786.2 760.7L786.4 759.2L786.6 757.7L786.7 756.2L786.9 754.7L787.0 753.9M787.9 745.7L788.1 744.2L788.3 742.7L788.4 741.2L788.6 739.7L788.7 738.2L788.8 737.4M789.7 729.2L789.8 727.7L790.0 726.2L790.1 724.7L790.2 723.2L790.4 721.7L790.5 720.9M791.2 712.6L791.4 711.2L791.5 709.7L791.6 708.2L791.8 706.7L791.9 705.2L792.0 704.4M792.7 696.1L792.8 694.6L792.9 693.1L793.0 691.6L793.1 690.1L793.2 688.6L793.3 687.8M793.9 679.6L794.0 678.1L794.1 676.6L794.3 675.1L794.4 673.6L794.5 672.1L794.5 671.3M795.1 663.0L795.2 661.5L795.3 660.0L795.4 658.5L795.4 657.0L795.5 655.5L795.6 654.7M796.1 646.4L796.2 644.9L796.2 643.4L796.3 641.9L796.4 640.4L796.5 638.9L796.5 638.1M796.9 629.9L797.0 628.4L797.1 626.9L797.2 625.4L797.2 625.1M479.1 996.5L480.4 995.8L481.8 995.2L483.2 994.8L484.6 994.3L486.1 993.8L486.2 993.8M494.2 991.6L495.7 991.2L497.1 990.9L498.6 990.6L500.1 990.3L501.6 990.1L502.3 989.9M510.5 988.7L512.0 988.5L513.5 988.3L515.0 988.2L516.5 988.0L518.0 987.9L518.8 987.8M527.1 987.2L528.6 987.1L530.1 987.1L531.6 987.0L533.1 986.9L534.6 986.9L535.4 986.9M543.7 986.7L545.2 986.7L546.7 986.7L548.3 986.7L549.8 986.7L551.3 986.7L552.1 986.7M560.4 986.7L561.9 986.7L563.5 986.7L565.0 986.7L566.5 986.8L568.0 986.8L568.8 986.9M577.1 987.3L578.6 987.4L580.2 987.5L581.7 987.6L583.2 987.7L584.7 987.8L585.5 987.9M593.8 988.7L595.3 988.8L596.8 989.0L598.3 989.2L599.8 989.4L601.3 989.5L602.1 989.6M610.3 990.6L611.8 990.8L613.3 991.0L614.8 991.2L616.3 991.4L617.8 991.6L618.6 991.7M626.8 992.8L628.3 993.0L629.8 993.1L631.3 993.3L632.8 993.4L634.3 993.5L635.1 993.5M643.4 993.8L644.9 993.8L646.4 993.8L647.9 993.8L649.4 993.8L650.9 993.8L651.7 993.7M660.2 993.1L661.7 992.9L663.2 992.7L664.8 992.5L666.3 992.3L667.8 992.1L668.6 992.0M676.9 990.3L678.4 989.8L679.9 989.4L681.3 989.0L682.8 988.6L684.2 988.1L685.0 987.8M692.6 984.8L694.0 984.1L695.3 983.5L696.6 982.8L698.0 982.0L699.4 981.2L700.1 980.8M707.4 976.1L708.7 975.2L710.0 974.2L711.2 973.3L712.3 972.4L713.4 971.5L714.0 970.9M720.0 965.4L721.0 964.4L722.1 963.3L723.1 962.2L724.1 961.1L725.1 960.0L725.6 959.4M730.9 952.8L731.8 951.6L732.7 950.4L733.6 949.2L734.5 947.9L735.4 946.7L735.9 946.0M740.6 938.9L741.4 937.6L742.2 936.3L743.0 935.0L743.7 933.6L744.4 932.3L744.8 931.6M748.7 924.3L749.4 922.9L750.0 921.5L750.7 920.1L751.3 918.7L752.0 917.3L752.3 916.6M755.7 908.7L756.3 907.2L756.9 905.8L757.4 904.4L758.0 903.0L758.5 901.6L758.8 900.8M761.7 892.9L762.2 891.5L762.6 890.0L763.1 888.6L763.6 887.2L764.0 885.7L764.3 884.9M766.7 876.9L767.1 875.5L767.6 874.0L767.9 872.5L768.3 871.0L768.7 869.6L768.9 868.8M770.9 860.6L771.2 859.1L771.6 857.6L771.9 856.2L772.2 854.7L772.5 853.2L772.7 852.4M774.2 844.1L774.5 842.7L774.8 841.2L775.1 839.7L775.4 838.2L775.6 836.8L775.8 836.0M777.3 827.8L777.5 826.4L777.8 824.9L778.0 823.4L778.3 821.9L778.6 820.5L778.7 819.7M780.0 811.5L780.3 810.0L780.5 808.5L780.7 807.1L781.0 805.6L781.2 804.1L781.3 803.3M782.5 795.1L782.7 793.6L782.9 792.1L783.1 790.6L783.3 789.2L783.5 787.7L783.6 786.9M784.7 778.6L784.9 777.2L785.0 775.7L785.2 774.2L785.4 772.7L785.6 771.2L785.7 770.4M786.7 762.2L786.9 760.7L787.0 759.2L787.2 757.7L787.4 756.2L787.5 754.7L787.6 753.9M788.5 745.7L788.7 744.2L788.9 742.7L789.0 741.2L789.2 739.7L789.3 738.2L789.4 737.4M790.2 729.2L790.4 727.7L790.5 726.2L790.7 724.7L790.8 723.2L791.0 721.7L791.0 720.9M791.8 712.6L791.9 711.2L792.0 709.7L792.2 708.2L792.3 706.7L792.4 705.2L792.5 704.4M793.2 696.1L793.3 694.6L793.4 693.1L793.5 691.6L793.6 690.1L793.8 688.6L793.8 687.8M794.4 679.6L794.5 678.1L794.6 676.6L794.7 675.1L794.8 673.6L794.9 672.1L795.0 671.3M795.5 663.0L795.6 661.5L795.7 660.0L795.8 658.5L795.9 657.0L796.0 655.5L796.0 654.7M796.5 646.4L796.6 644.9L796.7 643.4L796.7 641.9L796.8 640.4L796.9 638.9L796.9 638.1M797.4 629.9L797.4 628.4L797.5 626.9L797.6 625.4L797.6 625.1" stroke="#00f" stroke-width="1.40"/>
<path d="M479.4 968.1h0M481.4 980.3h0M490.7 988.5h0M502.4 993.1h0M514.8 995.2h0M527.4 995.9h0M540.0 996.0h0M552.6 995.8h0M565.1 995.3h0M577.7 994.8h0M590.3 994.2h0M602.9 993.9h0M615.5 993.8h0M628.1 994.1h0M640.6 994.9h0M653.2 996.1h0M665.7 997.1h0M678.3 997.0h0M690.7 995.0h0M702.6 991.0h0M713.9 985.4h0M724.2 978.2h0M733.7 969.9h0M742.0 960.5h0M749.3 950.2h0M755.4 939.2h0M760.6 927.7h0M764.9 915.9h0M768.6 903.9h0M771.9 891.7h0M774.8 879.5h0M777.4 867.2h0M779.7 854.8h0M781.8 842.4h0M783.6 829.9h0M785.3 817.5h0M786.8 805.0h0M788.2 792.4h0M789.4 779.9h0M790.5 767.4h0M791.6 754.8h0M792.5 742.3h0M793.4 729.7h0M794.2 717.1h0M795.0 704.6h0M795.8 692.0h0M796.5 679.4h0M479.4 968.1h0M484.6 981.9h0M493.4 990.0h0M504.3 995.1h0M516.8 997.6h0M528.9 996.4h0M540.3 996.3h0M552.9 996.1h0M565.5 995.6h0M578.1 995.1h0M590.7 994.6h0M603.3 994.3h0M616.0 994.2h0M628.6 994.5h0M641.3 995.3h0M653.9 996.5h0M666.5 997.5h0M679.4 997.6h0M692.2 995.8h0M705.0 992.3h0M717.2 987.6h0M728.1 981.0h0M738.0 973.3h0M747.1 963.9h0M754.9 953.7h0M760.9 942.6h0M766.5 930.8h0M770.5 918.3h0M774.0 906.1h0M777.3 894.1h0M779.8 881.4h0M782.4 868.5h0M784.5 856.3h0M786.3 843.4h0M787.9 830.9h0M789.5 818.2h0M790.8 805.4h0M792.0 792.5h0M793.1 779.8h0M794.3 766.5h0M795.3 753.8h0M795.8 740.9h0M796.7 727.8h0" stroke="#0f0" stroke-width="3.70" stroke-linecap="round"/>
</g>
<g font-size="20.6" fill="#000">
<text x="45.2" y="1008.1" text-anchor="end">0</text>
<text x="45.2" y="894.5" text-anchor="end">0.02</text>
<text x="45.2" y="780.8" text-anchor="end">0.04</text>
<text x="45.2" y="667.1" text-anchor="end">0.06</text>
<text x="45.2" y="553.5" text-anchor="end">0.08</text>
<text x="56.8" y="1025.7" text-anchor="middle">0</text>
<text x="124.9" y="1025.7" text-anchor="middle">0.2</text>
<text x="193.1" y="1025.7" text-anchor="middle">0.4</text>
<text x="261.2" y="1025.7" text-anchor="middle">0.6</text>
<text x="329.4" y="1025.7" text-anchor="middle">0.8</text>
<text x="397.5" y="1025.7" text-anchor="middle">1</text>
</g>
<text x="227.0" y="1053.6" font-size="28" text-anchor="middle">x</text>
<g font-size="20.6" fill="#000">
<text x="461.8" y="1008.1" text-anchor="end">0</text>
<text x="461.8" y="894.5" text-anchor="end">0.02</text>
<text x="461.8" y="780.8" text-anchor="end">0.04</text>
<text x="461.8" y="667.1" text-anchor="end">0.06</text>
<text x="461.8" y="553.5" text-anchor="end">0.08</text>
<text x="473.4" y="1025.7" text-anchor="middle">0</text>
<text x="541.5" y="1025.7" text-anchor="middle">0.2</text>
<text x="609.7" y="1025.7" text-anchor="middle">0.4</text>
<text x="677.8" y="1025.7" text-anchor="middle">0.6</text>
<text x="746.0" y="1025.7" text-anchor="middle">0.8</text>
<text x="814.1" y="1025.7" text-anchor="middle">1</text>
</g>
<text x="643.6" y="1053.6" font-size="28" text-anchor="middle">x</text>
<g fill="#000">
<!-- left title -->
<text x="117.8" y="613.2" font-size="30">&#916;</text>
<text x="137.6" y="623.8" font-size="21.5">abs</text>
<text x="172.2" y="613.2" font-size="30">F</text>
<circle cx="183.5" cy="586.2" r="1.6"/>
<text x="190" y="623.8" font-size="21.5">2,NS</text>
<!-- right title -->
<text x="534.6" y="613.4" font-size="30">&#916;</text>
<text x="554.6" y="623.6" font-size="21.5">abs</text>
<text x="588.6" y="613.4" font-size="30">F</text>
<circle cx="599.8" cy="586.6" r="1.6"/>
<text x="605.8" y="623.6" font-size="21.5">3</text>
<!-- legend -->
<g font-size="20.6">
<text x="159.2" y="729.4">NLO</text>
<text x="159.2" y="769.4">NNLO</text>
<text x="159.2" y="808.8">N</text>
<text x="174.6" y="802.9" font-size="16">3</text>
<text x="181.4" y="808.8">LO</text>
<text x="209.2" y="817.2" font-size="14.2">A,B</text>
<text x="159.2" y="848.4">N</text>
<text x="174.6" y="842.5" font-size="16">4</text>
<text x="181.4" y="848.4">LO</text>
<text x="209.2" y="856.8" font-size="14.2">A,B</text>
</g>
<g fill="none">
<path d="M101 722.75H142" stroke="#000" stroke-width="1.6"/>
<path d="M101 762.55H142" stroke="#f00" stroke-width="1.7" stroke-dasharray="8.4 8.2"/>
<path d="M101 762.55H142" stroke="#f00" stroke-width="3.6" stroke-linecap="round" stroke-dasharray="0 16.6" stroke-dashoffset="-12.5"/>
<path d="M101 801.9H142" stroke="#00f" stroke-width="1.5" stroke-dasharray="8.3 8.3"/>
<path d="M101 841.5H142" stroke="#0f0" stroke-width="3.7" stroke-linecap="round" stroke-dasharray="0 12.6" stroke-dashoffset="-1.5"/>
</g>
<!-- right annotation line 1 -->
<g font-size="23.4">
<text x="508" y="696">(max</text>
<text x="563.4" y="696">-</text>
<text x="576.6" y="696">min</text>
<text x="614.4" y="696">)</text>
<text x="628.4" y="696">F</text>
<circle cx="634.6" cy="676.8" r="1.35"/>
<text x="641.8" y="704.2" font-size="16.8">a</text>
<text x="652.6" y="696">/</text>
<text x="663.6" y="696">2</text>
</g>
<!-- right annotation line 2 -->
<g font-size="21.2">
<text x="520.2" y="735.4" font-size="21.8">&#956;</text>
<text x="532.8" y="742.3" font-size="15">r</text>
<text x="543" y="736" font-size="24">=</text>
<text x="560.6" y="735.5">Q</text>
<text x="580.2" y="735.5">/</text>
<text x="590.8" y="735.5">2</text>
<text x="607" y="735.5">...</text>
<text x="629" y="735.5">2</text>
<text x="643.6" y="735.5">Q</text>
</g>
</g>

</svg></body></html>
